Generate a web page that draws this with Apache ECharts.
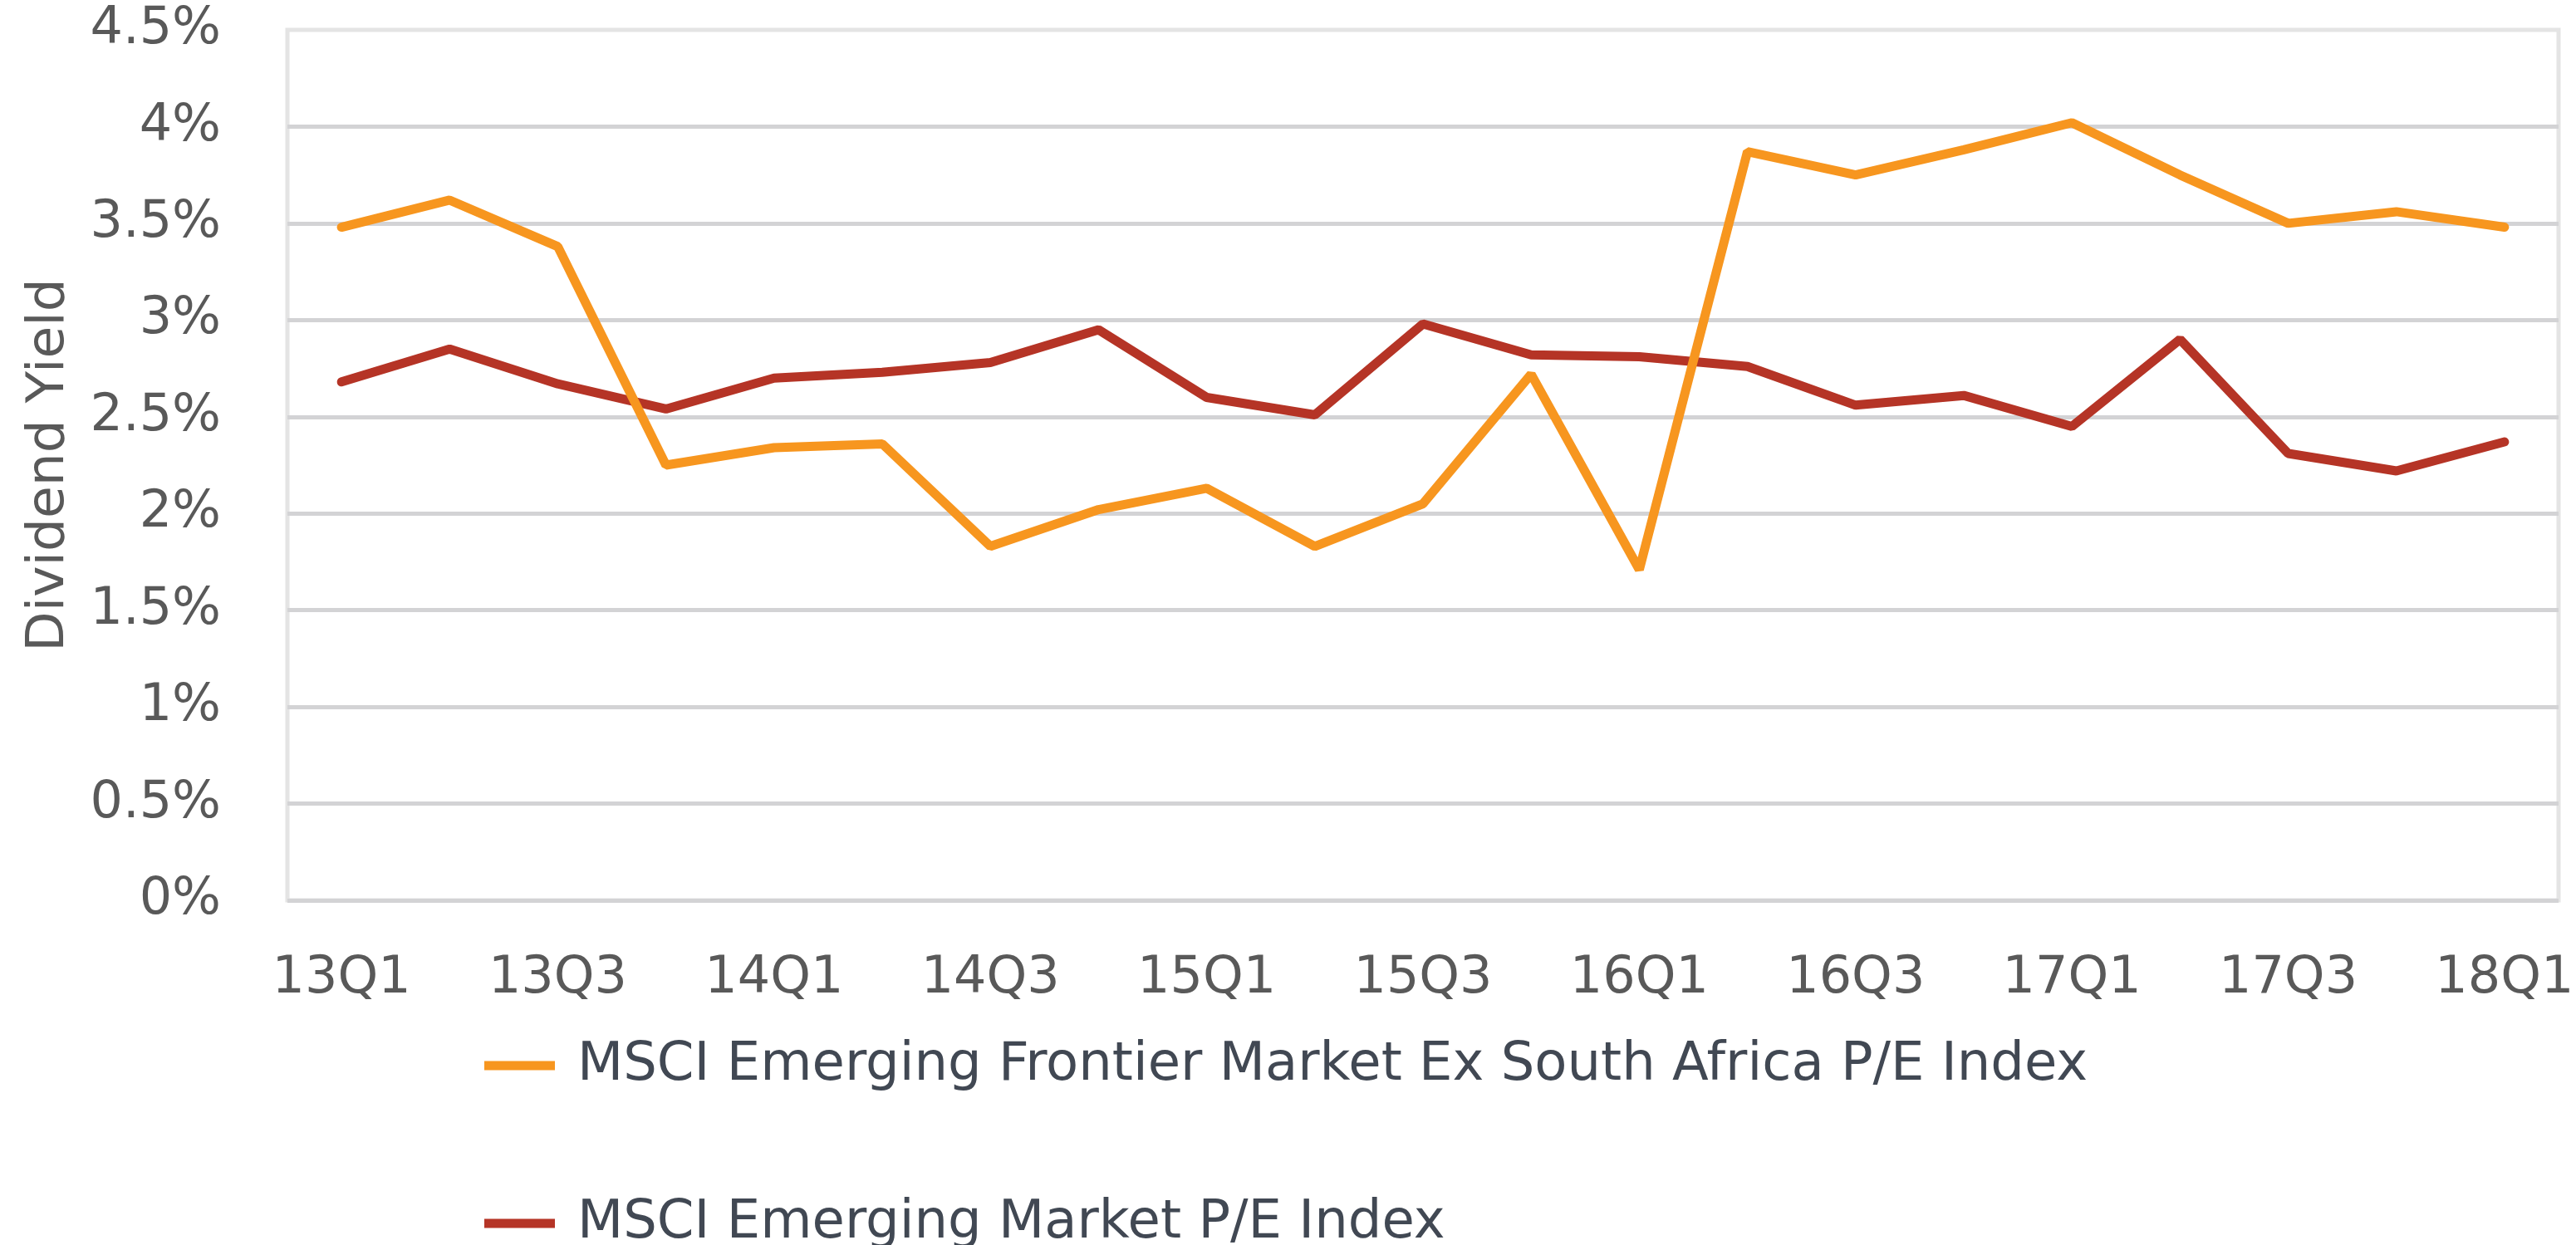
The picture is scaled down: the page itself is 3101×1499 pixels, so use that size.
<!DOCTYPE html>
<html>
<head>
<meta charset="utf-8">
<script src="https://cdn.jsdelivr.net/npm/echarts@6/dist/echarts.min.js"></script>
<style>
  html, body { margin: 0; padding: 0; background: #fff; }
  #chart { width: 3101px; height: 1499px; }
</style>
</head>
<body>
<div id="chart"></div>
<script>
// quarters 13Q1 .. 18Q1
const quarters = [
  '13Q1', '13Q2', '13Q3', '13Q4', '14Q1', '14Q2', '14Q3', '14Q4',
  '15Q1', '15Q2', '15Q3', '15Q4', '16Q1', '16Q2', '16Q3', '16Q4',
  '17Q1', '17Q2', '17Q3', '17Q4', '18Q1'
]
// dividend yield, %
const frontierExSA = [3.48, 3.62, 3.38, 2.25, 2.34, 2.36, 1.83, 2.02, 2.13, 1.83, 2.05,
  2.72, 1.71, 3.87, 3.75, 3.88, 4.02, 3.75, 3.50, 3.56, 3.48]
const emerging = [2.68, 2.85, 2.67, 2.54, 2.70, 2.73, 2.78, 2.95, 2.60, 2.51, 2.98,
  2.82, 2.81, 2.76, 2.56, 2.61, 2.45, 2.90, 2.31, 2.22, 2.37]
const seriesNames = [
  'MSCI Emerging Frontier Market Ex South Africa P/E Index',
  'MSCI Emerging Market P/E Index'
]

const font = 'DejaVu Sans'
const legendText = { fontFamily: font, fontSize: 64, color: '#414853', padding: [0, 0, 0, 22] }
const chart = echarts.init(document.getElementById('chart'))
const option = {
  animation: false,
  grid: {
    left: 346, right: 21, top: 36, bottom: 415,
    outerBoundsMode: 'none',
    containLabel: false,
    show: true, borderColor: '#E4E4E4', borderWidth: 5
  },
  // one legend per row, the rows are far apart in the original
  legend: [
    {
      left: 578, top: 1246, itemWidth: 85, itemHeight: 11, icon: 'rect',
      textStyle: legendText, data: [seriesNames[0]]
    },
    {
      left: 578, top: 1436, itemWidth: 85, itemHeight: 11, icon: 'rect',
      textStyle: legendText, data: [seriesNames[1]]
    }
  ],
  xAxis: {
    type: 'category',
    data: quarters,
    boundaryGap: true,
    axisLine: { show: false },
    axisTick: { show: false },
    axisLabel: { interval: 1, margin: 64, fontFamily: font, fontSize: 62, color: '#595959' }
  },
  yAxis: {
    type: 'value',
    min: 0, max: 4.5, interval: 0.5,
    name: 'Dividend Yield',
    nameLocation: 'middle',
    nameGap: 255,
    nameTextStyle: { fontFamily: font, fontSize: 63, color: '#595959' },
    axisLine: { show: false },
    axisTick: { show: false },
    axisLabel: { margin: 80, padding: [18, 0, 0, 0], fontFamily: font, fontSize: 62, color: '#595959', formatter: (v) => v + '%' },
    splitLine: { show: true, showMaxLine: false, lineStyle: { color: '#D3D3D5', width: 5 } }
  },
  series: [
    {
      name: seriesNames[0], type: 'line', data: frontierExSA, symbol: 'none', z: 3,
      itemStyle: { color: '#F7961F' },
      lineStyle: { color: '#F7961F', width: 11, cap: 'round' }
    },
    {
      name: seriesNames[1], type: 'line', data: emerging, symbol: 'none', z: 2,
      itemStyle: { color: '#B53426' },
      lineStyle: { color: '#B53426', width: 11, cap: 'round' }
    }
  ]
}
chart.setOption(option)
</script>
</body>
</html>
